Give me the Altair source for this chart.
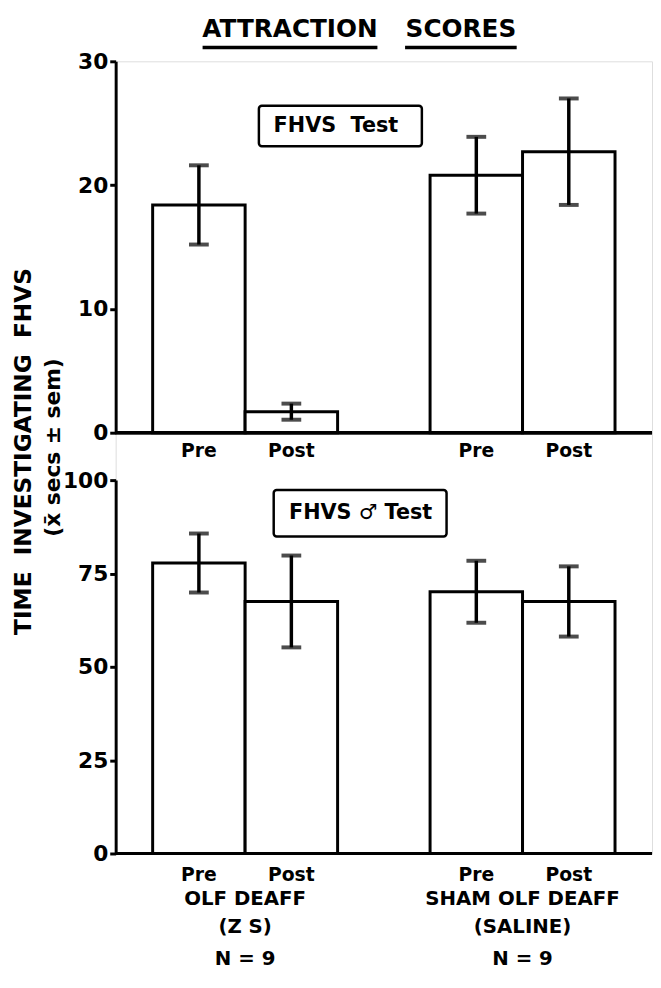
import altair as alt
import pandas as pd

# ---- data ----
groups = ["OLF", "OLF", "SHAM", "SHAM"]
phases = ["Pre", "Post", "Pre", "Post"]
x_domain = ["OLF|Pre", "OLF|Post", "gap", "SHAM|Pre", "SHAM|Post"]

fhvs_mean = [18.4, 1.7, 20.8, 22.7]
fhvs_sem = [3.2, 0.65, 3.1, 4.3]

male_mean = [77.8, 67.5, 70.1, 67.5]
male_sem = [7.9, 12.3, 8.3, 9.4]

top_ticks = [0, 10, 20, 30]
bottom_ticks = [0, 25, 50, 75, 100]

group_keys = ["OLF|Pre", "SHAM|Pre"]
group_line1 = ["OLF DEAFF", "SHAM OLF DEAFF"]
group_line2 = ["(Z S)", "(SALINE)"]
group_n = ["N = 9", "N = 9"]

panel_titles = ["FHVS\u00a0\u00a0Test", "FHVS \u2642 Test"]
title_words = ["ATTRACTION", "SCORES"]

keys = [g + "|" + p for g, p in zip(groups, phases)]
df_top = pd.DataFrame({"key": keys, "phase": phases, "mean": fhvs_mean, "sem": fhvs_sem})
df_bot = pd.DataFrame({"key": keys, "phase": phases, "mean": male_mean, "sem": male_sem})
df_groups = pd.DataFrame({"key": group_keys, "l1": group_line1, "l2": group_line2, "n": group_n})

W = 543
H = 802
FONT = "DejaVu Sans"
PAD_OUTER = 0.4
HALF_STEP = W / (len(x_domain) + 2 * PAD_OUTER) / 2

xscale = alt.Scale(domain=x_domain, paddingInner=0, paddingOuter=PAD_OUTER)
xenc = alt.X("key:N", scale=xscale, axis=None)


def yaxis(vals):
    return alt.Axis(values=vals, orient="left", grid=False, title=None,
                    domainColor="black", domainWidth=3, tickColor="black",
                    tickWidth=3, tickSize=6, labelFont=FONT, labelFontSize=22,
                    labelFontWeight="bold", labelColor="black", labelPadding=2)


def panel(df, domain, rng, ticks, box, label, label_pos, phase_dy, extra=()):
    ys = alt.Scale(domain=domain, range=rng, nice=False, zero=True)
    y = alt.Y("mean:Q", scale=ys, axis=yaxis(ticks))
    base = alt.Chart(df).transform_calculate(lo="datum.mean - datum.sem", hi="datum.mean + datum.sem")
    bars = base.mark_bar(fill="white", stroke="black", strokeWidth=3).encode(x=xenc, y=y)
    err = base.mark_rule(color="black", strokeWidth=3.5).encode(
        x=xenc, y=alt.Y("lo:Q", scale=ys), y2="hi:Q")
    cap_lo = base.mark_tick(color="black", thickness=4, size=20, orient="horizontal").encode(
        x=xenc, y=alt.Y("lo:Q", scale=ys))
    cap_hi = base.mark_tick(color="black", thickness=4, size=20, orient="horizontal").encode(
        x=xenc, y=alt.Y("hi:Q", scale=ys))
    baseline = base.mark_rule(color="black", strokeWidth=3).encode(
        x=alt.value(0), x2=alt.value(W), y=alt.datum(0, scale=ys))
    phase_txt = base.mark_text(font=FONT, fontSize=19, fontWeight="bold", dy=phase_dy,
                               baseline="middle", color="black").encode(
        x=xenc, y=alt.datum(0, scale=ys), text="phase:N")
    boxm = alt.Chart(pd.DataFrame({"t": [label]})).mark_rect(
        fill="white", stroke="black", strokeWidth=2.5, cornerRadius=3).encode(
        x=alt.value(box[0]), x2=alt.value(box[1]), y=alt.value(box[2]), y2=alt.value(box[3]))
    boxt = alt.Chart(pd.DataFrame({"t": [label]})).mark_text(
        font=FONT, fontSize=21, fontWeight="bold", color="black", baseline="middle").encode(
        x=alt.value(label_pos[0]), y=alt.value(label_pos[1]), text="t:N")
    return alt.layer(bars, err, cap_lo, cap_hi, baseline, phase_txt, boxm, boxt, *extra)


gbase = alt.Chart(df_groups)


def grow(field, y):
    return gbase.mark_text(font=FONT, fontSize=20, fontWeight="bold", color="black",
                           baseline="middle", dx=HALF_STEP).encode(
        x=xenc, y=alt.value(y), text=f"{field}:N")


groups_txt = [grow("l1", H + 46), grow("l2", H + 74), grow("n", H + 107)]

top = panel(df_top, [0, 30], [376, 0], top_ticks, (145, 310, 45, 86), panel_titles[0], (223, 66), 19)
bot = panel(df_bot, [0, 100], [H, 424], bottom_ticks, (160, 335, 434, 481), panel_titles[1], (248, 457), 22,
            extra=groups_txt)

# title words with underlines (annotation positions in pixels)
title_layers = []
for word, cx, a, b in zip(title_words, [176.5, 349.5], [88, 293], [265, 406]):
    wdf = pd.DataFrame({"w": [word]})
    title_layers.append(alt.Chart(wdf).mark_text(
        font=FONT, fontSize=25, fontWeight="bold", color="black", baseline="middle").encode(
        x=alt.value(cx), y=alt.value(-33), text="w:N"))
    title_layers.append(alt.Chart(wdf).mark_rule(color="black", strokeWidth=3.5).encode(
        x=alt.value(a), x2=alt.value(b), y=alt.value(-14)))

ytitle = alt.Chart(pd.DataFrame({"t": ["TIME\u00a0\u00a0INVESTIGATING\u00a0\u00a0FHVS"]})).mark_text(
    font=FONT, fontSize=23.5, fontWeight="bold",
    angle=270, color="black", baseline="middle").encode(
    x=alt.value(-93), y=alt.value(395), text="t:N")
ytitle2 = alt.Chart(pd.DataFrame({"t": ["(x\u0304 secs \u00b1 sem)"]})).mark_text(
    font=FONT, fontSize=22, fontWeight="bold", angle=270, color="black", baseline="middle").encode(
    x=alt.value(-63), y=alt.value(391), text="t:N")

chart = alt.layer(top, bot, *title_layers, ytitle, ytitle2).resolve_scale(
    y="independent").properties(
    width=W, height=H,
    autosize=alt.AutoSizeParams(type="none"),
    padding={"left": 109, "top": 48, "right": 1, "bottom": 114},
).configure_view(stroke=None).configure(background="white")

chart.save("out.html", embed_options={"renderer": "svg", "actions": False})
